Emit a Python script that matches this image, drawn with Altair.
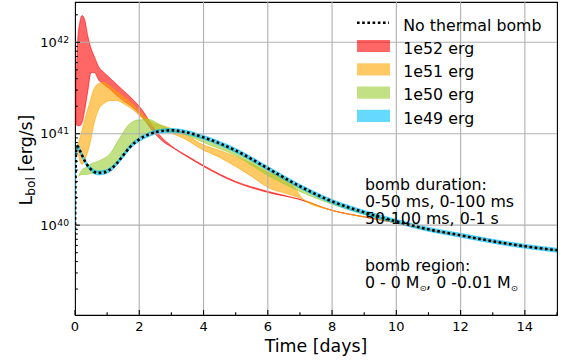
import altair as alt
import pandas as pd

FONT = "DejaVu Sans"

# ---------------- data ----------------
# no thermal bomb (black dotted)
t_nb = [0, 0.03, 0.08, 0.15, 0.25, 0.35, 0.5, 0.7, 0.9, 1.1, 1.3, 1.5, 1.7, 2.0, 2.3, 2.6, 3.0, 3.5,
        4.0, 5.0, 6.0, 7.0, 8.0, 9.0, 10.0, 11.0, 12.0, 13.0, 14.0, 15.0]
L_nb = [8.8e39, 6.25e40, 7.27e40, 6.56e40, 5.5e40, 4.73e40, 4.07e40, 3.73e40, 3.78e40, 4.07e40, 4.73e40,
        5.79e40, 7.08e40, 8.67e40, 9.83e40, 1.06e41, 1.09e41, 1.03e41, 9.12e40, 6.56e40, 4.18e40, 2.66e40,
        1.82e40, 1.38e40, 1.10e40, 9.0e39, 7.74e39, 6.66e39, 5.87e39, 5.31e39]

# 1e49 erg band
t_49 = t_nb
lo_49 = [8.4e39, 5.95e40, 6.9e40, 6.25e40, 5.25e40, 4.5e40, 3.88e40, 3.55e40, 3.6e40, 3.88e40, 4.5e40,
         5.5e40, 6.75e40, 8.25e40, 9.35e40, 1.01e41, 1.04e41, 9.8e40, 8.7e40, 6.25e40, 3.98e40, 2.53e40,
         1.73e40, 1.31e40, 1.05e40, 8.57e39, 7.37e39, 6.34e39, 5.59e39, 5.06e39]
hi_49 = [9.2e39, 6.55e40, 7.6e40, 6.9e40, 5.8e40, 4.95e40, 4.27e40, 3.92e40, 3.97e40, 4.27e40, 4.95e40,
         6.08e40, 7.43e40, 9.1e40, 1.03e41, 1.11e41, 1.14e41, 1.08e41, 9.57e40, 6.9e40, 4.39e40, 2.79e40,
         1.91e40, 1.45e40, 1.155e40, 9.45e39, 8.13e39, 6.99e39, 6.16e39, 5.58e39]

# 1e50 erg band
t_50 = [0.12, 0.2, 0.36, 0.5, 0.78, 1.09, 1.4, 1.71, 2.0, 2.3, 2.6, 3.0, 3.5, 4.0, 5.0, 6.0, 7.0, 8.0,
        9.0, 10.0, 11.0]
lo_50 = [3.41e40, 3.59e40, 3.59e40, 3.68e40, 3.80e40, 4.14e40, 5.11e40, 7.14e40, 9.0e40, 1.03e41, 1.09e41,
         1.06e41, 9.58e40, 8.03e40, 5.79e40, 3.50e40, 2.34e40, 1.69e40, 1.31e40, 1.07e40, 8.89e39]
hi_50 = [3.41e40, 3.97e40, 4.32e40, 4.68e40, 5.11e40, 6.04e40, 9.11e40, 1.29e41, 1.42e41, 1.43e41, 1.28e41,
         1.11e41, 1.03e41, 9.0e40, 6.49e40, 4.12e40, 2.62e40, 1.82e40, 1.38e40, 1.10e40, 9.0e39]

# 1e51 erg band
t_51 = [0.08, 0.15, 0.22, 0.3, 0.45, 0.6, 0.75, 0.9, 1.1, 1.3, 1.5, 1.8, 2.1, 2.4, 2.7, 3.0, 3.5, 3.9,
        4.5, 5.0, 5.5, 6.0, 6.6, 6.9, 7.1, 8.0, 9.0, 10.0, 10.5, 11.0, 12.0, 13.0, 14.0, 15.0]
lo_51 = [6.91e40, 5.11e40, 4.62e40, 5.11e40, 7.45e40, 1.33e41, 1.89e41, 2.14e41, 2.31e41, 2.31e41, 2.14e41,
         1.84e41, 1.47e41, 1.20e41, 1.09e41, 1.01e41, 8.45e40, 6.91e40, 5.51e40, 4.39e40, 3.41e40, 2.59e40,
         2.20e40, 2.04e40, 1.91e40, 1.45e40, 1.23e40, 1.06e40, 9.70e39, 8.89e39, 7.74e39, 6.65e39, 5.87e39,
         5.31e39]
hi_51 = [7.26e40, 8.89e40, 1.09e41, 1.40e41, 2.14e41, 3.13e41, 3.55e41, 3.64e41, 3.29e41, 2.90e41, 2.56e41,
         2.09e41, 1.63e41, 1.33e41, 1.23e41, 1.14e41, 9.58e40, 7.83e40, 6.57e40, 5.65e40, 4.73e40, 3.78e40,
         3.09e40, 2.40e40, 1.91e40, 1.45e40, 1.23e40, 1.06e40, 9.70e39, 8.89e39, 7.74e39, 6.65e39, 5.87e39,
         5.31e39]

# 1e52 erg band
t_52 = [0.03, 0.08, 0.15, 0.22, 0.3, 0.4, 0.5, 0.6, 0.75, 0.9, 1.1, 1.3, 1.5, 1.8, 2.1, 2.4, 2.7, 3.0,
        3.5, 4.0, 5.0, 6.0, 7.0, 8.0, 9.0, 10.0, 11.0, 12.0, 13.0, 14.0, 15.0]
lo_52 = [1.26e41, 1.23e41, 1.23e41, 1.33e41, 1.80e41, 2.97e41, 4.68e41, 4.68e41, 3.82e41, 3.46e41, 3.05e41,
         2.62e41, 2.31e41, 1.94e41, 1.51e41, 1.09e41, 8.45e40, 7.17e40, 5.58e40, 4.39e40, 2.94e40, 2.28e40,
         1.91e40, 1.45e40, 1.23e40, 1.06e40, 8.89e39, 7.74e39, 6.65e39, 5.87e39, 5.31e39]
hi_52 = [2.62e41, 9.95e41, 1.65e42, 1.96e42, 1.77e42, 1.16e42, 8.55e41, 7.00e41, 5.30e41, 4.68e41, 4.02e41,
         3.46e41, 2.97e41, 2.37e41, 1.80e41, 1.23e41, 9.11e40, 7.36e40, 5.71e40, 4.50e40, 3.01e40, 2.34e40,
         1.91e40, 1.45e40, 1.23e40, 1.06e40, 8.89e39, 7.74e39, 6.65e39, 5.87e39, 5.31e39]

band_labels = ["1e52 erg", "1e51 erg", "1e50 erg", "1e49 erg"]
band_colors = ["#ff0000", "#ffa500", "#9acd32", "#00bfff"]
line_label = "No thermal bomb"

# ticks and tick labels
x_major = [0, 2, 4, 6, 8, 10, 12, 14]
x_major_labels = ["0", "2", "4", "6", "8", "10", "12", "14"]
x_minor = [1, 3, 5, 7, 9, 11, 13, 15]
y_major = [1e40, 1e41, 1e42]
y_major_base = ["10", "10", "10"]
y_major_exp = ["40", "41", "42"]
y_minor = [m * 10.0 ** e for e in (39, 40, 41) for m in range(2, 10)] + [2e42]

annot_duration = ["bomb duration:", "0-50 ms, 0-100 ms", "50-100 ms, 0-1 s"]
annot_region = "bomb region:"

# ---------------- chart ----------------
W, H = 482, 313
FS = 15.8
xscale = alt.Scale(domain=[0, 15], nice=False, zero=False)
yscale = alt.Scale(type="log", domain=[1.04e39, 2.76e42], nice=False)
one = pd.DataFrame({"a": [0]})
X = lambda f: alt.X(f, scale=xscale, axis=None)
Y = lambda f: alt.Y(f, scale=yscale, axis=None)


def band(t, lo, hi, color):
    df = pd.DataFrame({"t": t, "lo": lo, "hi": hi})
    return alt.Chart(df).mark_area(
        fill=color, stroke=color, fillOpacity=0.6, strokeOpacity=0.6, strokeWidth=1.0,
        interpolate="monotone", clip=True
    ).encode(x=X("t:Q"), y=Y("lo:Q"), y2="hi:Q")


bands = [
    band(t_52, lo_52, hi_52, band_colors[0]),
    band(t_51, lo_51, hi_51, band_colors[1]),
    band(t_50, lo_50, hi_50, band_colors[2]),
    band(t_49, lo_49, hi_49, band_colors[3]),
]

# grid lines (over the bands, under the dotted line)
gx = alt.Chart(pd.DataFrame({"v": x_major[1:]})).mark_rule(color="#b0b0b0", strokeWidth=1.1).encode(x=X("v:Q"))
gy = alt.Chart(pd.DataFrame({"v": y_major})).mark_rule(color="#b0b0b0", strokeWidth=1.1).encode(y=Y("v:Q"))

dotted = alt.Chart(pd.DataFrame({"t": t_nb, "L": L_nb})).mark_line(
    color="black", strokeWidth=2.6, strokeDash=[2.6, 2.6], interpolate="monotone", clip=True
).encode(x=X("t:Q"), y=Y("L:Q"))

# inward ticks
tx_major = alt.Chart(pd.DataFrame({"v": x_major})).mark_rule(color="black", strokeWidth=1.1).encode(
    x=X("v:Q"), y=alt.value(H), y2=alt.value(H - 4.9))
tx_minor = alt.Chart(pd.DataFrame({"v": x_minor})).mark_rule(color="black", strokeWidth=1.1).encode(
    x=X("v:Q"), y=alt.value(H), y2=alt.value(H - 2.8))
ty_major = alt.Chart(pd.DataFrame({"v": y_major})).mark_rule(color="black", strokeWidth=1.1).encode(
    y=Y("v:Q"), x=alt.value(0), x2=alt.value(4.9))
ty_minor = alt.Chart(pd.DataFrame({"v": y_minor})).mark_rule(color="black", strokeWidth=1.1).encode(
    y=Y("v:Q"), x=alt.value(0), x2=alt.value(2.8))

# tick labels
lx = alt.Chart(pd.DataFrame({"v": x_major, "s": x_major_labels})).mark_text(
    font=FONT, fontSize=13, align="center", baseline="alphabetic", color="black"
).encode(x=X("v:Q"), y=alt.value(H + 15.7), text="s:N")
ly_base = alt.Chart(pd.DataFrame({"v": y_major, "s": y_major_base})).mark_text(
    font=FONT, fontSize=13, align="right", baseline="alphabetic", dy=4.7, color="black"
).encode(y=Y("v:Q"), x=alt.value(-18.3), text="s:N")
ly_exp = alt.Chart(pd.DataFrame({"v": y_major, "s": y_major_exp})).mark_text(
    font=FONT, fontSize=9.2, align="left", baseline="alphabetic", dy=0.7, color="black"
).encode(y=Y("v:Q"), x=alt.value(-17.7), text="s:N")


def txt(s, x, y, size=FS, angle=0, align="left", baseline="alphabetic"):
    return alt.Chart(one).mark_text(
        text=s, font=FONT, fontSize=size, align=align, baseline=baseline, angle=angle, color="black"
    ).encode(x=alt.value(x), y=alt.value(y))


# legend
leg = []
leg.append(alt.Chart(one).mark_rule(color="black", strokeWidth=2.6, strokeDash=[2.6, 2.6]).encode(
    x=alt.value(282), x2=alt.value(314), y=alt.value(20.7)))
leg.append(txt(line_label, 328.3, 28.5))
for i, (lab, col) in enumerate(zip(band_labels, band_colors)):
    cy = 44.0 + 23.3 * i
    leg.append(alt.Chart(one).mark_rect(fill=col, opacity=0.6).encode(
        x=alt.value(282), x2=alt.value(315), y=alt.value(cy - 6.1), y2=alt.value(cy + 6.1)))
    leg.append(txt(lab, 328.3, 51.8 + 23.3 * i))

# annotations
w1 = 3.45 * FS      # "0 - 0 M"
w2 = 5.358 * FS     # ", 0 -0.01 M"
ws = 6.6            # subscript sun symbol
ann = []
for i, s in enumerate(annot_duration):
    ann.append(txt(s, 290, 188 + 17.2 * i))
ann.append(txt(annot_region, 290, 269.0))
ann.append(txt("0 - 0 M", 290, 286.3))
ann.append(txt("⊙", 290 + w1, 289.0, size=8.2))
ann.append(txt(", 0 -0.01 M", 290 + w1 + ws, 286.3))
ann.append(txt("⊙", 290 + w1 + ws + w2, 289.0, size=8.2))

# axis titles
titles = [
    txt("Time [days]", 241, 350.3, size=17.4, align="center"),
    txt("L", -43.5, 203.5, size=17.4, angle=270),
    txt("bol", -40.5, 193.8, size=12.2, angle=270),
    txt("[erg/s]", -43.5, 169.7, size=17.4, angle=270),
]

chart = alt.layer(
    *bands, gx, gy, dotted, tx_major, tx_minor, ty_major, ty_minor, lx, ly_base, ly_exp,
    *leg, *ann, *titles
).properties(
    width=W, height=H,
    autosize=alt.AutoSizeParams(type="none"),
    padding={"left": 75, "top": 2, "right": 7, "bottom": 46},
).configure_view(stroke="black", strokeWidth=1.1)

chart.save("out.html", embed_options={"renderer": "svg", "actions": False})
